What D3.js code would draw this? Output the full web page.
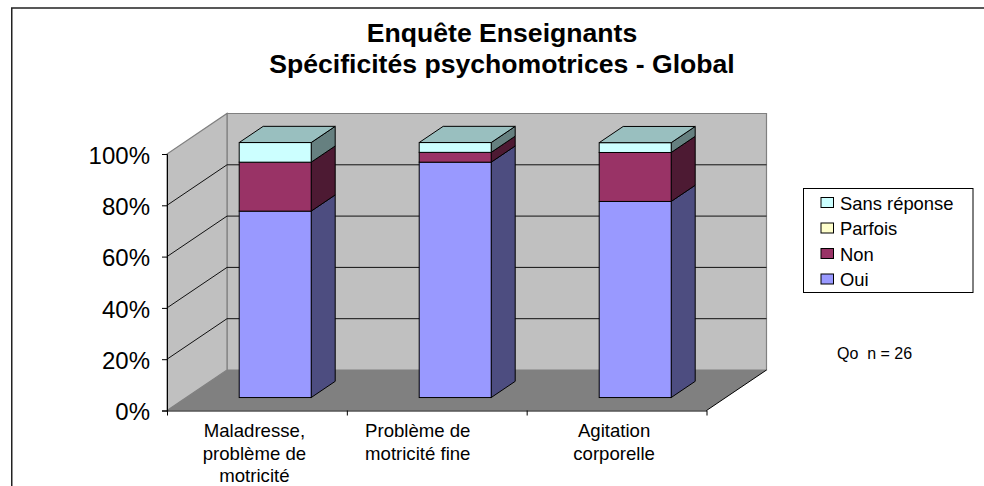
<!DOCTYPE html>
<html>
<head>
<meta charset="utf-8">
<script src="https://cdn.jsdelivr.net/npm/d3@7"></script>
<style>
  html, body { margin: 0; padding: 0; background: #fff; }
  text { font-family: "Liberation Sans", Arial, sans-serif; fill: #000; }
</style>
</head>
<body>
<svg id="chart" width="984" height="486" style="display:block"></svg>
<script>
var titleLines = ["Enquête Enseignants", "Spécificités psychomotrices - Global"];
var categories = ["Maladresse, problème de motricité", "Problème de motricité fine", "Agitation corporelle"];
var categoryLines = [["Maladresse,", "problème de", "motricité"], ["Problème de", "motricité fine"], ["Agitation", "corporelle"]];
var seriesNames = ["Oui", "Non", "Parfois", "Sans réponse"];
var oui = [73.1, 92.3, 76.9];
var non = [19.2, 3.85, 19.2];
var parfois = [0, 0, 0];
var sansReponse = [7.7, 3.85, 3.85];
var seriesColors = ["#9999ff", "#993366", "#ffffcc", "#ccffff"];
var sideColors = ["#4d4d80", "#4d1a33", "#808066", "#668080"];
var topColors = ["#8080d5", "#80294f", "#d5d5aa", "#99bfbf"];
var tickValues = [0, 20, 40, 60, 80, 100];
var note = "Qo  n = 26";

var svg = d3.select("#chart");

// frame of the chart area, only left and top show up in the picture
svg.append("path")
    .attr("d", "M11.75,486V8H984")
    .attr("fill", "none")
    .attr("stroke", "#222")
    .attr("stroke-width", 1.5);

// scales: x along the front edge, y up the front edge, z goes into the depth
var x = d3.scaleBand().domain(categories).range([166, 706]).paddingInner(0.6).paddingOuter(0.3);
var xEdge = d3.scalePoint().domain(d3.range(categories.length + 1)).range([167, 706.5]);
var y = d3.scaleLinear().domain([0, 100]).range([410.5, 154]);
// bars stop a bit short of the 100% line in the original
var yBar = d3.scaleLinear().domain([0, 100]).range([410.5, 155.5]);
var zx = d3.scaleLinear().domain([0, 1]).range([0, 60]);
var zy = d3.scaleLinear().domain([0, 1]).range([0, -40.5]);

function pt(px, py, z) {
  return [px + zx(z), py + zy(z)];
}
function poly(points) {
  return "M" + points.map(function(p) { return p.join(","); }).join("L") + "Z";
}

var x0 = xEdge.range()[0], x1 = xEdge.range()[1];

// walls and floor
var walls = svg.append("g");
walls.append("path")
    .attr("d", poly([pt(x0, y(0), 1), pt(x0, y(100), 1), pt(x1, y(100), 1), pt(x1, y(0), 1)]))
    .attr("fill", "#c0c0c0").attr("stroke", "#808080").attr("stroke-width", 1.2);
walls.append("path")
    .attr("d", poly([pt(x0, y(0), 0), pt(x0, y(100), 0), pt(x0, y(100), 1), pt(x0, y(0), 1)]))
    .attr("fill", "#c0c0c0").attr("stroke", "#808080").attr("stroke-width", 1.2);
walls.append("path")
    .attr("d", poly([pt(x0, y(0), 0), pt(x1, y(0), 0), pt(x1, y(0), 1), pt(x0, y(0), 1)]))
    .attr("fill", "#808080");

// gridlines run along the side wall then the back wall
svg.append("g").selectAll("path")
    .data(tickValues.filter(function(d) { return d > 0 && d < 100; }))
  .enter().append("path")
    .attr("d", function(d) {
      var a = pt(x0, y(d), 0), b = pt(x0, y(d), 1), c = pt(x1, y(d), 1);
      return "M" + a + "L" + b + "L" + c;
    })
    .attr("fill", "none")
    .attr("stroke", "#111")
    .attr("stroke-width", 1);

// right edge of the floor
svg.append("path")
    .attr("d", "M" + pt(x1, y(0), 0) + "L" + pt(x1, y(0), 1))
    .attr("stroke", "#000");

// stacked bars
var stack = d3.stack().keys(d3.range(seriesNames.length))
    .value(function(d, k) { return [oui, non, parfois, sansReponse][k][d]; });
var layers = stack(d3.range(categories.length));

var zFront = 0.32, zBack = 0.72;

layers.forEach(function(layer, k) {
  var g = svg.append("g");
  layer.forEach(function(seg, i) {
    if (seg[1] - seg[0] <= 0) return;
    var left = x(categories[i]), right = left + x.bandwidth();
    g.append("path")
        .attr("d", poly([pt(right, yBar(seg[0]), zFront), pt(right, yBar(seg[1]), zFront), pt(right, yBar(seg[1]), zBack), pt(right, yBar(seg[0]), zBack)]))
        .attr("fill", sideColors[k]).attr("stroke", "#000").attr("stroke-linejoin", "round");
    g.append("rect")
        .attr("x", pt(left, 0, zFront)[0])
        .attr("y", pt(0, yBar(seg[1]), zFront)[1])
        .attr("width", x.bandwidth())
        .attr("height", yBar(seg[0]) - yBar(seg[1]))
        .attr("fill", seriesColors[k]).attr("stroke", "#000");
    if (k === seriesNames.length - 1) {
      g.append("path")
          .attr("d", poly([pt(left, yBar(seg[1]), zFront), pt(right, yBar(seg[1]), zFront), pt(right, yBar(seg[1]), zBack), pt(left, yBar(seg[1]), zBack)]))
          .attr("fill", topColors[k]).attr("stroke", "#000").attr("stroke-linejoin", "round");
    }
  });
});

// axes
var yAxis = d3.axisLeft(y).tickValues(tickValues).tickSize(5).tickPadding(12)
    .tickFormat(function(d) { return d + "%"; });
var gy = svg.append("g").attr("transform", "translate(" + x0 + ",0)").call(yAxis);
gy.attr("font-family", null);
gy.select(".domain").attr("stroke", "#000");
gy.selectAll("text").style("font-size", "24px").attr("dy", "0.38em");

var xAxis = d3.axisBottom(xEdge).tickSize(5).tickSizeOuter(0).tickFormat("");
svg.append("g").attr("transform", "translate(0," + y(0) + ")").call(xAxis);

// category labels, the middle one sits left of its slot in the original
var labelShift = d3.scaleOrdinal().domain(categories).range([-2.5, -19, -2.5]);
svg.append("g").selectAll("text")
    .data(categories)
  .enter().append("text")
    .attr("text-anchor", "middle")
    .attr("font-size", 18.6)
    .each(function(d, i) {
      var t = d3.select(this);
      categoryLines[i].forEach(function(line, j) {
        t.append("tspan")
            .attr("x", (xEdge(i) + xEdge(i + 1)) / 2 + labelShift(d))
            .attr("y", y(0) + 26.5 + j * 22.5)
            .text(line);
      });
    });

// title
svg.append("g").selectAll("text")
    .data(titleLines)
  .enter().append("text")
    .attr("x", 502)
    .attr("y", function(d, i) { return 42 + i * 31; })
    .attr("text-anchor", "middle")
    .attr("font-size", 26.6)
    .attr("font-weight", "bold")
    .text(function(d) { return d; });

// legend, top entry is the last series
var legend = svg.append("g");
legend.append("rect")
    .attr("x", 803.5).attr("y", 188.5)
    .attr("width", 169.5).attr("height", 104)
    .attr("fill", "#fff").attr("stroke", "#000");
var legendY = d3.scalePoint().domain(seriesNames.slice().reverse()).range([202.5, 279]);
var items = legend.selectAll("g").data(seriesNames.slice().reverse())
  .enter().append("g")
    .attr("transform", function(d) { return "translate(821," + legendY(d) + ")"; });
items.append("rect")
    .attr("x", 0).attr("y", -5)
    .attr("width", 12.5).attr("height", 10)
    .attr("fill", function(d) { return seriesColors[seriesNames.indexOf(d)]; })
    .attr("stroke", "#000");
items.append("text")
    .attr("x", 19)
    .attr("y", 7)
    .attr("font-size", 18.4)
    .text(function(d) { return d; });

svg.append("text")
    .attr("x", 837)
    .attr("y", 359)
    .attr("font-size", 16)
    .style("white-space", "pre")
    .text(note);
</script>
</body>
</html>
